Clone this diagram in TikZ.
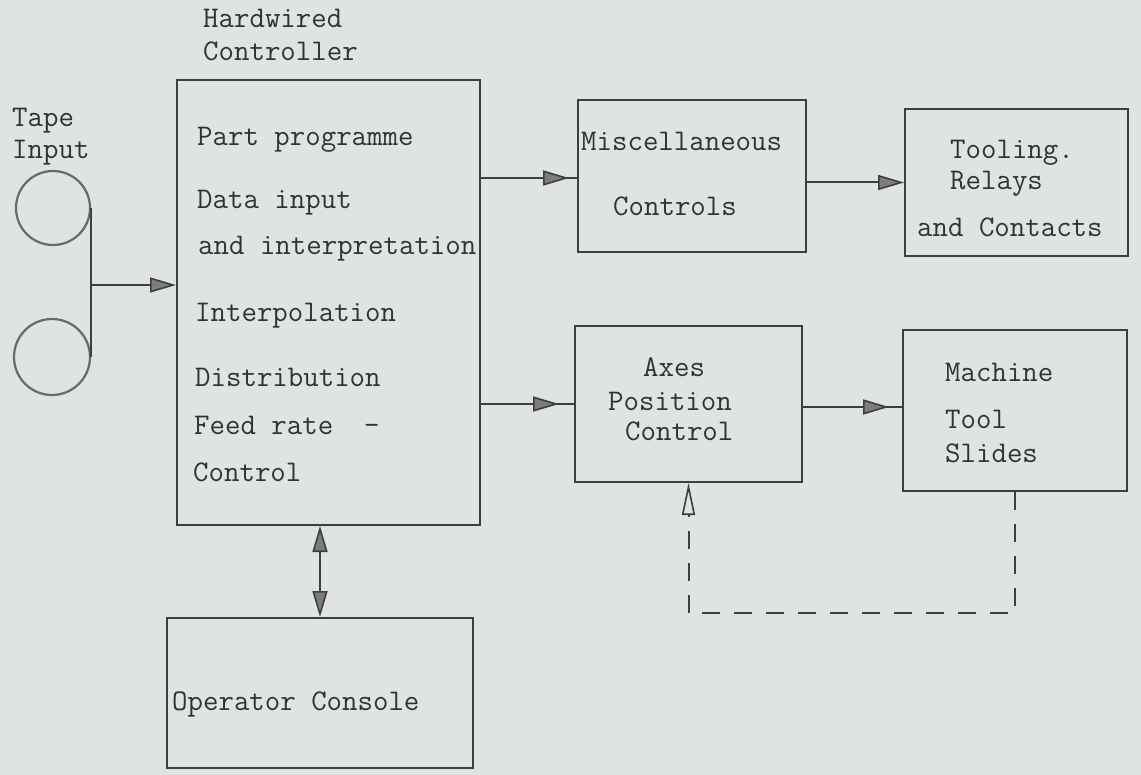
\documentclass[tikz,border=0pt]{standalone}
\usepackage{fontspec}
\usetikzlibrary{arrows.meta,decorations.markings,calc}
\definecolor{bgcol}{RGB}{223,228,224}
\definecolor{linecol}{RGB}{62,62,62}
\definecolor{textcol}{RGB}{50,50,50}
\definecolor{tipfill}{RGB}{125,125,125}
\definecolor{reelcol}{RGB}{105,105,105}
\tikzset{
  box/.style={draw=linecol, line width=2pt, inner sep=0pt, rectangle},
  txt/.style={font=\ttfamily\fontsize{30}{34}\selectfont, text=textcol, inner sep=0pt, anchor=base west},
  conn/.style={draw=linecol, line width=2pt},
  headtip/.tip={Triangle[length=26pt,width=15pt,fill=tipfill]},
  gaptip/.style={postaction={decorate}, decoration={markings, mark=at position -#1 with {\arrow[line width=1.6pt, draw=linecol]{headtip}}}},
  reel/.style={draw=reelcol, line width=2.2pt, circle, inner sep=0pt},
}
\begin{document}
\begin{tikzpicture}[x=1pt,y=-1pt]
\fill[bgcol] (0,0) rectangle (1141,775);
\useasboundingbox (0,0) rectangle (1141,775);

% boxes
\node[box, minimum width=303pt, minimum height=445pt] (main) at (328.5,302.5) {};
\node[box, minimum width=228pt, minimum height=152pt] (misc) at (692,176) {};
\node[box, minimum width=223pt, minimum height=147pt] (tool) at (1016.5,182.5) {};
\node[box, minimum width=227pt, minimum height=156pt] (axes) at (688.5,404) {};
\node[box, minimum width=224pt, minimum height=161pt] (mach) at (1015,410.5) {};
\node[box, minimum width=306pt, minimum height=150pt] (cons) at (320,693) {};

% tape reels
\node[reel, minimum size=74pt] (reel1) at (53,208) {};
\node[reel, minimum size=76pt] (reel2) at (52,357) {};
\coordinate (tj) at (90,285);

% texts
\node[txt] (hw1) at (203,27.5) {Hardwired};
\node[txt] (hw2) at (203,60.5) {Controller};
\node[txt] (tape1) at (12,126.5) {Tape};
\node[txt] (tape2) at (12,158.5) {Input};
\node[txt] (m1) at (197,145.5) {Part programme};
\node[txt] (m2) at (197,208.5) {Data input};
\node[txt] (m3) at (198,255) {and interpretation};
\node[txt] (m4) at (195,321.5) {Interpolation};
\node[txt] (m5) at (195,386.5) {Distribution};
\node[txt] (m6) at (194,435) {Feed rate~~–};
\node[txt] (m7) at (193,481.5) {Control};
\node[txt] (misc1) at (581,150.5) {Miscellaneous};
\node[txt] (misc2) at (613,215.5) {Controls};
\node[txt] (t1) at (950,158.5) {Tooling.};
\node[txt] (t2) at (950,189.5) {Relays};
\node[txt] (t3) at (917,236.5) {and Contacts};
\node[txt] (a1) at (643,376.5) {Axes};
\node[txt] (a2) at (608,410.5) {Position};
\node[txt] (a3) at (625,440.5) {Control};
\node[txt] (mc1) at (945,381.5) {Machine};
\node[txt] (mc2) at (945,428.5) {Tool};
\node[txt] (mc3) at (945,462.5) {Slides};
\node[txt] (op) at (172,710.5) {Operator Console};

% connectors
\draw[conn] (reel1.east) -- (reel1.east |- reel2.east);
\draw[conn, -{headtip[line width=1.6pt]}] (tj) -- (tj -| main.west);
\coordinate (mm) at ($(misc.west)+(0,2)$);
\draw[conn, gaptip=8pt] (mm -| main.east) -- (mm);
\draw[conn, -{headtip[line width=1.6pt]}] (tool.west -| misc.east) -- (tool.west);
\draw[conn, gaptip=15pt] (axes.west -| main.east) -- (axes.west);
\coordinate (ae) at ($(axes.east)+(0,3)$);
\draw[conn, gaptip=13pt] (ae) -- (ae -| mach.west);
\draw[conn, {headtip[line width=1.6pt]}-{headtip[line width=1.6pt]}] (cons.north) -- (cons.north |- main.south);
\coordinate (fbr) at (1015,613);
\coordinate (fbl) at (688.5,613);
\draw[conn, dash pattern=on 18pt off 14pt, -{Triangle[open,length=32pt,width=13pt,line width=1.6pt]}] (mach.south) -- (fbr) -- (fbl) -- (axes.south);
\end{tikzpicture}
\end{document}
